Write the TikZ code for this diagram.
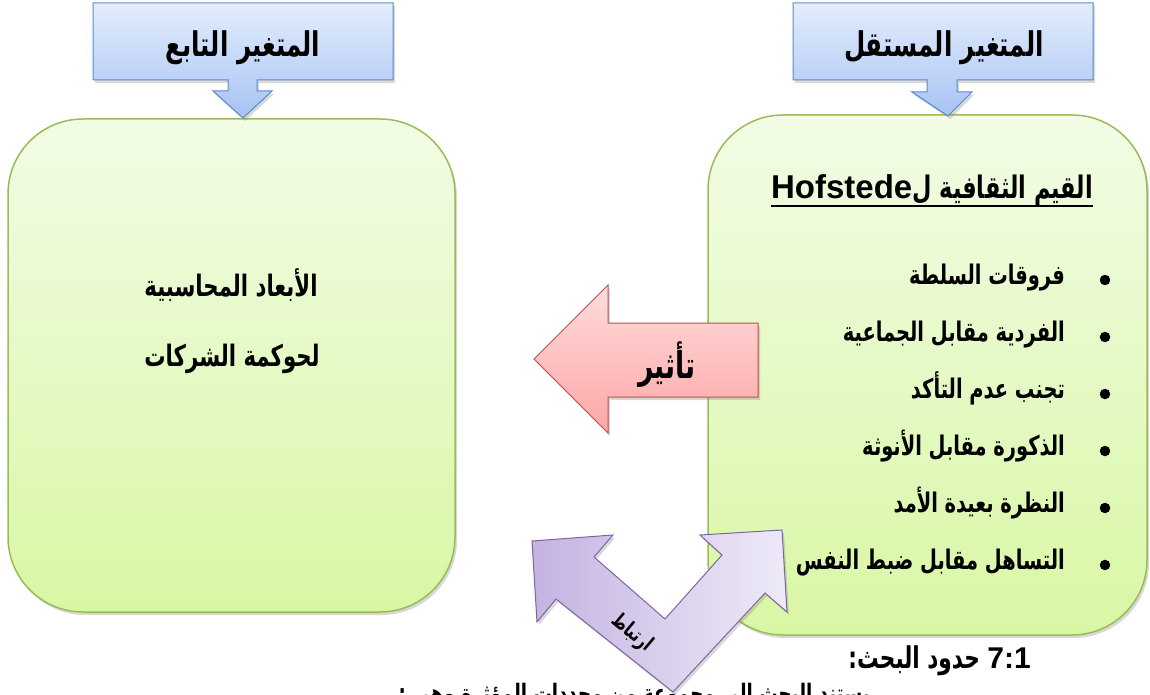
\documentclass[tikz,border=0pt]{standalone}
\usepackage{fontspec}
\setmainfont{DejaVu Sans}
\newfontfamily\arabicfont[Script=Arabic,FakeStretch=0.72]{DejaVu Sans}
\newfontfamily\latinb{Liberation Sans}
\TeXXeTstate=1
\usetikzlibrary{shadows,calc}
\definecolor{greenborder}{HTML}{9BBB59}
\definecolor{greentop}{HTML}{F2FCE6}
\definecolor{greenbot}{HTML}{D8F7A4}
\definecolor{bluetop}{HTML}{E3EDFC}
\definecolor{bluebot}{HTML}{A7C3F4}
\definecolor{blueborder}{HTML}{5B8BC9}
\definecolor{redtop}{HTML}{FFDCDC}
\definecolor{redbot}{HTML}{FFA6A6}
\definecolor{redborder}{HTML}{C0504D}
\definecolor{purptop}{HTML}{EEEAF8}
\definecolor{purpbot}{HTML}{C4B3E1}
\definecolor{purpborder}{HTML}{8064A2}
\begin{document}
\begin{tikzpicture}[x=1pt,y=-1pt,
  shad/.style={drop shadow={opacity=0.3,shadow xshift=2pt,shadow yshift=-3pt}},
  greenbox/.style={draw=greenborder, line width=1.5pt, rounded corners=75pt,
    top color=greentop, bottom color=greenbot, shad},
  bluecall/.style={draw=blueborder, line width=1pt, top color=bluetop, bottom color=bluebot, shad},
  redarrow/.style={draw=redborder, line width=1pt, top color=redtop, bottom color=redbot, shad},
  purparrow/.style={draw=purpborder, line width=1pt, left color=purpbot, right color=purptop, shad},
  title/.style={font=\arabicfont\bfseries\fontsize{34}{38}\selectfont, inner sep=0pt},
  item/.style={font=\arabicfont\bfseries\fontsize{27}{31}\selectfont, inner sep=0pt, anchor=base east},
  dot/.style={circle, fill=black, inner sep=0pt, minimum size=10.5pt},
  body/.style={font=\arabicfont\bfseries\fontsize{29.5}{33}\selectfont, inner sep=0pt, anchor=base},
]
\useasboundingbox (0,0) rectangle (1150,695);
\fill[white] (0,0) rectangle (1150,695);

% green boxes
\draw[greenbox] (8,119) rectangle (455,612);
\draw[greenbox] (708,115) rectangle (1147,635);

% purple double arrow
\draw[purparrow] (532,541) -- (613,535) -- (594,557) -- (665,619) -- (722,555) -- (700,535)
  -- (782,530) -- (787,612) -- (765,593) -- (673,692) -- (556,599) -- (537,622) -- cycle;

% red arrow
\draw[redarrow] (534,359) -- (608,285) -- (608,323) -- (758,323) -- (758,397) -- (608,397) -- (608,433) -- cycle;

% blue callouts
\draw[bluecall] (93,3) -- (393,3) -- (393,80) -- (257,80) -- (257,91) -- (272,91) -- (243,118)
  -- (213,91) -- (228,91) -- (228,80) -- (93,80) -- cycle;
\draw[bluecall] (793,3) -- (1093,3) -- (1093,80) -- (957,80) -- (957,92) -- (972,92) -- (948,116)
  -- (912,92) -- (927,92) -- (927,80) -- (793,80) -- cycle;

% titles
\node[title, anchor=base] (tdep) at (243,57) {\beginR المتغير التابع\endR};
\node[title, anchor=base] (tind) at (944,57) {\beginR المتغير المستقل\endR};

% left box text
\node[body] (l1) at (231,296) {\beginR الأبعاد المحاسبية\endR};
\node[body] (l2) at (232,366) {\beginR لحوكمة الشركات\endR};

% right box heading
\node[font=\arabicfont\bfseries\fontsize{31}{35}\selectfont, inner sep=0pt, anchor=base east] (head) at (1093,198)
  {\beginR القيم الثقافية ل\beginL{\latinb\bfseries\fontsize{33}{37}\selectfont Hofstede}\endL\endR};
\draw[line width=1.8pt] ([yshift=-8pt]head.base west) -- ([yshift=-8pt]head.base east);

% bullets
\node[item] (i1) at (1065,284) {\beginR فروقات السلطة\endR};
\node[item] (i2) at (1065,341) {\beginR الفردية مقابل الجماعية\endR};
\node[item] (i3) at (1065,398) {\beginR تجنب عدم التأكد\endR};
\node[item] (i4) at (1065,455) {\beginR الذكورة مقابل الأنوثة\endR};
\node[item] (i5) at (1065,512) {\beginR النظرة بعيدة الأمد\endR};
\node[item] (i6) at (1065,569) {\beginR التساهل مقابل ضبط النفس\endR};
\foreach \y/\n in {280/1,337/2,394/3,451/4,508/5,565/6}
  \node[dot] (d\n) at (1105,\y) {};

% arrow labels
\node[font=\arabicfont\bfseries\fontsize{37}{40}\selectfont, inner sep=0pt, anchor=base] (eff) at (667,378) {\beginR تأثير\endR};
\node[font=\arabicfont\bfseries\fontsize{21}{24}\selectfont, inner sep=0pt, rotate=-40] (rel) at (632,633) {\beginR ارتباط\endR};

% bottom text
\node[font=\arabicfont\bfseries\fontsize{30}{34}\selectfont, inner sep=0pt, anchor=base east] (sec) at (1031,668)
  {\beginR\beginL{\latinb\bfseries\fontsize{30}{34}\selectfont 7:1}\endL{} حدود البحث:\endR};
\node[font=\arabicfont\bfseries\fontsize{25.4}{29}\selectfont, inner sep=0pt, anchor=base east] (line) at (870,702)
  {\beginR يستند البحث إلى مجموعة من محددات المؤثرة وهي :\endR};
\end{tikzpicture}
\end{document}
